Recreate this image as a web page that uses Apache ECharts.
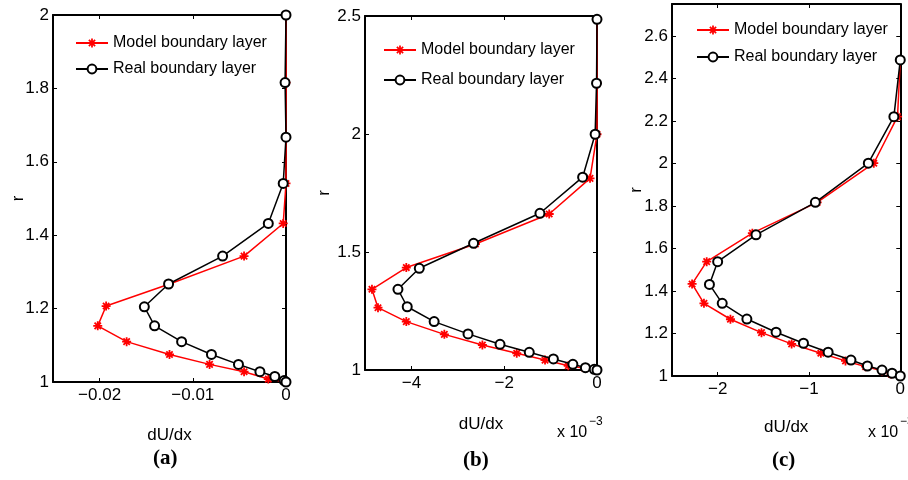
<!DOCTYPE html>
<html><head><meta charset="utf-8">
<script src="https://cdn.jsdelivr.net/npm/echarts@6/dist/echarts.min.js"></script>
<style>html,body{margin:0;padding:0;background:#fff}#c{width:908px;height:480px}</style>
</head><body><div id="c"></div>
<script>
const seriesNames = ['Model boundary layer', 'Real boundary layer'];

// Panel (a)
const aModelR = [2.0, 1.816, 1.667, 1.541, 1.432, 1.343, 1.267, 1.207, 1.153, 1.110, 1.075, 1.048, 1.028, 1.008, 1.0];
const aModelV = [0, 0, 0, 0, -0.0003, -0.0045, -0.0125, -0.0193, -0.0202, -0.0171, -0.0125, -0.0082, -0.0045, -0.0019, 0];
const aRealR  = [2.0, 1.816, 1.667, 1.541, 1.432, 1.343, 1.267, 1.205, 1.153, 1.110, 1.075, 1.048, 1.028, 1.015, 1.004, 1.0];
const aRealV  = [0, -0.0001, 0, -0.0003, -0.0019, -0.0068, -0.0126, -0.0152, -0.0141, -0.0112, -0.0080, -0.0051, -0.0028, -0.0012, -0.0002, 0];

// Panel (b)  (values x 10^-3)
const bModelR = [2.486, 2.215, 1.999, 1.812, 1.661, 1.534, 1.434, 1.342, 1.264, 1.205, 1.151, 1.106, 1.071, 1.042, 1.018, 1.007, 1.0];
const bModelV = [0, 0, 0, -0.15, -1.03, -2.62, -4.11, -4.85, -4.72, -4.11, -3.29, -2.47, -1.73, -1.12, -0.62, -0.26, -0.05];
const bRealR  = [2.486, 2.215, 1.999, 1.817, 1.664, 1.537, 1.431, 1.342, 1.268, 1.205, 1.153, 1.109, 1.075, 1.047, 1.024, 1.010, 1.003, 1.0];
const bRealV  = [0, -0.01, -0.04, -0.31, -1.23, -2.66, -3.83, -4.29, -4.09, -3.51, -2.78, -2.09, -1.46, -0.94, -0.52, -0.25, -0.06, 0];

// Panel (c)  (values x 10^-3)
const cModelR = [2.487, 2.220, 2.001, 1.817, 1.672, 1.538, 1.433, 1.342, 1.267, 1.204, 1.151, 1.107, 1.071, 1.044, 1.024, 1.009, 1.0];
const cModelV = [0, -0.03, -0.29, -0.91, -1.62, -2.12, -2.28, -2.15, -1.86, -1.52, -1.19, -0.87, -0.60, -0.38, -0.20, -0.10, 0];
const cRealR  = [2.487, 2.220, 2.001, 1.817, 1.664, 1.538, 1.431, 1.342, 1.268, 1.206, 1.154, 1.112, 1.075, 1.047, 1.028, 1.013, 1.0];
const cRealV  = [0, -0.07, -0.35, -0.93, -1.58, -2.00, -2.09, -1.95, -1.68, -1.36, -1.06, -0.79, -0.54, -0.36, -0.20, -0.09, 0];

// Tick labels
const aXTicks = [-0.02, -0.01, 0];
const aYTicks = [1, 1.2, 1.4, 1.6, 1.8, 2];
const bXTicks = [-4, -2, 0];
const bYTicks = [1, 1.5, 2, 2.5];
const cXTicks = [-2, -1, 0];
const cYTicks = [1, 1.2, 1.4, 1.6, 1.8, 2, 2.2, 2.4, 2.6];

const xLabel = 'dU/dx', yLabel = 'r';
const panelLabels = ['(a)', '(b)', '(c)'];
const exponentText = 'x 10', exponentSup = '\u22123';

const FONT = 'Liberation Sans';
const zip = (v, r) => v.map((x, i) => [x, r[i]]);
const fmt = v => String(v).replace('-', '\u2212');

const panels = [
  {grid: {left: 53, top: 15, width: 233, height: 367}, xmin: -0.025, xmax: 0, ymin: 1, ymax: 2,
   xt: aXTicks, yt: aYTicks, model: zip(aModelV, aModelR), real: zip(aRealV, aRealR),
   yGap: 26, xGap: 45, legend: {left: 70, top: 30, gap: 10}},
  {grid: {left: 365, top: 16, width: 232, height: 354}, xmin: -5, xmax: 0, ymin: 1, ymax: 2.5,
   xt: bXTicks, yt: bYTicks, model: zip(bModelV, bModelR), real: zip(bRealV, bRealR),
   yGap: 32, xGap: 46, legend: {left: 378, top: 37, gap: 14}},
  {grid: {left: 672, top: 4, width: 230, height: 372}, xmin: -2.5, xmax: 0, ymin: 1, ymax: 2.75,
   xt: cXTicks, yt: cYTicks, model: zip(cModelV, cModelR), real: zip(cRealV, cRealR),
   yGap: 27, xGap: 43, legend: {left: 691, top: 17, gap: 11}}
];

const starPath = 'path://M-1,-5L1,-5L1,5L-1,5Z M-5,-1L5,-1L5,1L-5,1Z M-4.24,-2.83L-2.83,-4.24L4.24,2.83L2.83,4.24Z M2.83,-4.24L4.24,-2.83L-2.83,4.24L-4.24,2.83Z';

const axisLine = {show: true, onZero: false, lineStyle: {color: '#000', width: 2}};
const tickStyle = (vals) => ({show: true, inside: true, length: 4, customValues: vals, lineStyle: {color: '#000', width: 1}});

const grid = [], xAxis = [], yAxis = [], series = [], legend = [];
panels.forEach((p, i) => {
  grid.push(p.grid);
  xAxis.push({type: 'value', gridIndex: i, position: 'bottom', min: p.xmin, max: p.xmax,
    axisLine, axisTick: tickStyle(p.xt), splitLine: {show: false},
    axisLabel: {customValues: p.xt, formatter: fmt, color: '#000', fontSize: 17, fontFamily: FONT, margin: 5},
    name: xLabel, nameLocation: 'middle', nameGap: p.xGap,
    nameTextStyle: {color: '#000', fontSize: 17, fontFamily: FONT}});
  xAxis.push({type: 'value', gridIndex: i, position: 'top', min: p.xmin, max: p.xmax,
    axisLine, axisTick: tickStyle(p.xt), splitLine: {show: false}, axisLabel: {show: false}});
  yAxis.push({type: 'value', gridIndex: i, position: 'left', min: p.ymin, max: p.ymax,
    axisLine, axisTick: tickStyle(p.yt), splitLine: {show: false},
    axisLabel: {customValues: p.yt, formatter: fmt, color: '#000', fontSize: 17, fontFamily: FONT, margin: 4},
    name: yLabel, nameLocation: 'middle', nameGap: p.yGap, nameRotate: 90, nameMoveOverlap: false,
    nameTextStyle: {color: '#000', fontSize: 17, fontFamily: FONT}});
  yAxis.push({type: 'value', gridIndex: i, position: 'right', min: p.ymin, max: p.ymax,
    axisLine, axisTick: tickStyle(p.yt), splitLine: {show: false}, axisLabel: {show: false}});
  series.push({name: seriesNames[0], type: 'line', xAxisIndex: 2 * i, yAxisIndex: 2 * i,
    data: p.model, clip: false, symbol: starPath, symbolSize: 9,
    lineStyle: {color: '#ff0000', width: 1.5}, itemStyle: {color: '#ff0000'}, z: 2});
  series.push({name: seriesNames[1], type: 'line', xAxisIndex: 2 * i, yAxisIndex: 2 * i,
    data: p.real, clip: false, symbol: 'emptyCircle', symbolSize: 9,
    lineStyle: {color: '#000', width: 1.5}, itemStyle: {color: '#000', borderWidth: 1.5}, z: 3});
  legend.push({data: seriesNames, orient: 'vertical', left: p.legend.left, top: p.legend.top,
    itemWidth: 32, itemHeight: 11, itemGap: p.legend.gap, selectedMode: false,
    textStyle: {color: '#000', fontSize: 16, fontFamily: FONT}});
});

const graphic = [
  {type: 'text', left: 153, top: 448, style: {text: panelLabels[0], font: 'bold 21px "Liberation Serif"', fill: '#000'}},
  {type: 'text', left: 463, top: 450, style: {text: panelLabels[1], font: 'bold 21px "Liberation Serif"', fill: '#000'}},
  {type: 'text', left: 772, top: 450, style: {text: panelLabels[2], font: 'bold 21px "Liberation Serif"', fill: '#000'}},
  {type: 'text', left: 557, top: 425, style: {text: exponentText, font: '16px "Liberation Sans"', fill: '#000'}},
  {type: 'text', left: 589, top: 416, style: {text: exponentSup, font: '12px "Liberation Sans"', fill: '#000'}},
  {type: 'text', left: 868, top: 425, style: {text: exponentText, font: '16px "Liberation Sans"', fill: '#000'}},
  {type: 'text', left: 900, top: 416, style: {text: exponentSup, font: '12px "Liberation Sans"', fill: '#000'}}
];

const chart = echarts.init(document.getElementById('c'), null, {renderer: 'canvas'});
chart.setOption({animation: false, backgroundColor: '#fff', grid, xAxis, yAxis, series, legend, graphic});
</script></body></html>
